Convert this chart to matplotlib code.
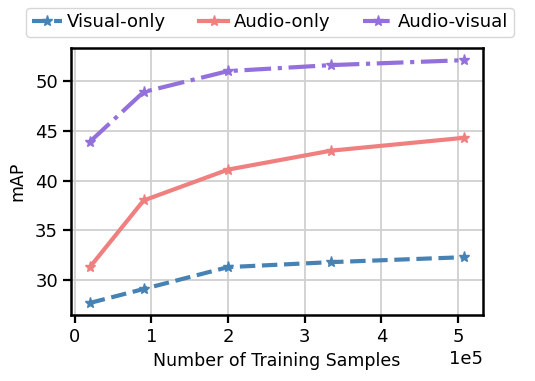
import matplotlib
matplotlib.use('Agg')
import matplotlib.pyplot as plt

# Training set sizes and mAP per modality
samples = [20000, 90000, 200000, 334000, 508000]
visual_only = [27.7, 29.1, 31.3, 31.8, 32.3]
audio_only = [31.3, 38.0, 41.1, 43.0, 44.3]
audio_visual = [43.9, 48.9, 51.0, 51.6, 52.1]

fig = plt.figure(figsize=(5.35, 3.81), dpi=100)
ax = fig.add_axes([0.133, 0.173, 0.770, 0.701])

ax.plot(samples, visual_only, color='steelblue', linestyle='--', marker='*',
        markersize=8, linewidth=3, label='Visual-only')
ax.plot(samples, audio_only, color='lightcoral', linestyle='-', marker='*',
        markersize=8, linewidth=3, label='Audio-only')
ax.plot(samples, audio_visual, color='mediumpurple', linestyle='-.', marker='*',
        markersize=8, linewidth=3, label='Audio-visual')

ax.grid(True, color='#d0d0d0', linewidth=1.3)
ax.set_axisbelow(True)
ax.set_yticks([30, 35, 40, 45, 50])
ax.set_xticks([0, 100000, 200000, 300000, 400000, 500000])
ax.ticklabel_format(axis='x', style='sci', scilimits=(0, 0))
ax.xaxis.get_offset_text().set_fontsize(13)
ax.tick_params(axis='both', labelsize=13, length=6, width=1.6, direction='out')
for s in ax.spines.values():
    s.set_linewidth(1.8)
    s.set_color('black')

ax.set_xlabel('Number of Training Samples', fontsize=12.5)
ax.set_ylabel('mAP', fontsize=12.5, labelpad=6)

fig.legend(loc='center', bbox_to_anchor=(0.505, 0.941), ncol=3, fontsize=13,
           handlelength=1.65, handletextpad=0.3, columnspacing=1.8,
           borderpad=0.3, frameon=True)

fig.savefig('out.png', dpi=100)
